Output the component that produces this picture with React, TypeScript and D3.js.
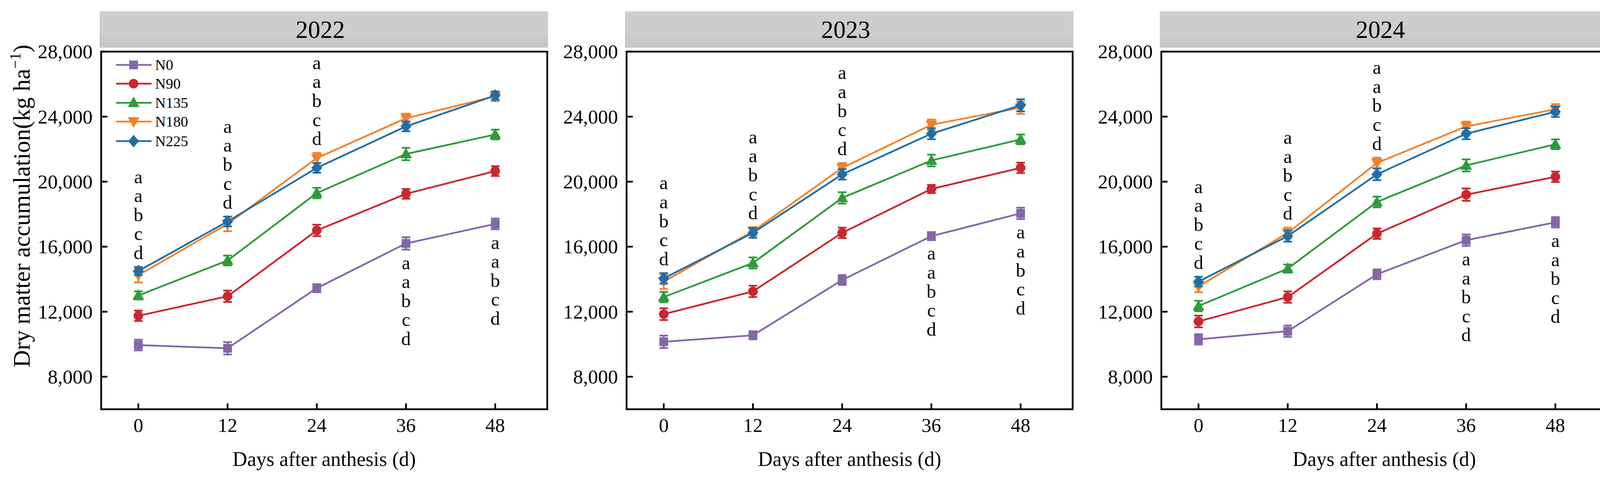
import React from "react";
import * as d3 from "d3";

// ---------------- data ----------------
const days = [0, 12, 24, 36, 48];
const years = ["2022", "2023", "2024"];
const treatments = ["N0", "N90", "N135", "N180", "N225"];
const colors = ["#8466A9", "#C9272D", "#2F9A3C", "#F0822A", "#1F6EA6"];
const markerTypes = ["square", "circle", "triangleUp", "triangleDown", "diamond"];
const yTicks = [8000, 12000, 16000, 20000, 24000, 28000];

// values [treatment][day]
const values2022 = [
  [9950, 9750, 13450, 16200, 17400],
  [11750, 12950, 17000, 19250, 20650],
  [13000, 15150, 19300, 21700, 22900],
  [14250, 17400, 21450, 23900, 25250],
  [14500, 17550, 20850, 23400, 25300],
];
const errors2022 = [
  [330, 380, 250, 380, 330],
  [320, 350, 350, 300, 300],
  [250, 300, 320, 380, 300],
  [450, 450, 320, 280, 300],
  [250, 300, 300, 300, 250],
];
const values2023 = [
  [10150, 10550, 13950, 16650, 18050],
  [11850, 13250, 16850, 19550, 20850],
  [12900, 15000, 19000, 21300, 22600],
  [13850, 16950, 20850, 23500, 24550],
  [14050, 16850, 20450, 22950, 24700],
];
const errors2023 = [
  [380, 250, 300, 250, 350],
  [360, 350, 320, 250, 320],
  [320, 340, 350, 360, 300],
  [450, 250, 300, 320, 380],
  [320, 300, 320, 340, 370],
];
const values2024 = [
  [10300, 10800, 14300, 16400, 17500],
  [11400, 12900, 16800, 19200, 20300],
  [12350, 14650, 18750, 21000, 22300],
  [13550, 16850, 21150, 23400, 24450],
  [13850, 16650, 20450, 22950, 24300],
];
const errors2024 = [
  [320, 350, 300, 350, 320],
  [360, 350, 320, 380, 320],
  [320, 250, 330, 370, 300],
  [350, 320, 320, 290, 320],
  [300, 340, 360, 340, 320],
];
const valuesByYear = [values2022, values2023, values2024];
const errorsByYear = [errors2022, errors2023, errors2024];

// significance letters per day (same for each year), top to bottom
const letterSides = ["above", "above", "above", "below", "below"];
const letters2022 = [["a", "a", "b", "c", "d"], ["a", "a", "b", "c", "d"], ["a", "a", "b", "c", "d"], ["a", "a", "b", "c", "d"], ["a", "a", "b", "c", "d"]];
const letters2023 = [["a", "a", "b", "c", "d"], ["a", "a", "b", "c", "d"], ["a", "a", "b", "c", "d"], ["a", "a", "b", "c", "d"], ["a", "a", "b", "c", "d"]];
const letters2024 = [["a", "a", "b", "c", "d"], ["a", "a", "b", "c", "d"], ["a", "a", "b", "c", "d"], ["a", "a", "b", "c", "d"], ["a", "a", "b", "c", "d"]];
const lettersByYear = [letters2022, letters2023, letters2024];

// ---------------- layout ----------------
const W = 4143;
const H = 1228;
const panelLefts = [259, 1604, 2973];
const panelW = 1142;
const plotTop = 132;
const plotBottom = 1047;
const FONT = "'Liberation Serif', 'Times New Roman', Times, serif";

function markerPath(type: string): string {
  if (type === "square") {
    return d3.symbol(d3.symbolSquare, 500)() as string;
  }
  if (type === "circle") {
    return d3.symbol(d3.symbolCircle, 470)() as string;
  }
  if (type === "triangleUp") {
    const p = d3.path();
    p.moveTo(0, -16);
    p.lineTo(15, 11);
    p.lineTo(-15, 11);
    p.closePath();
    return p.toString();
  }
  if (type === "triangleDown") {
    const p = d3.path();
    p.moveTo(0, 16);
    p.lineTo(15, -11);
    p.lineTo(-15, -11);
    p.closePath();
    return p.toString();
  }
  const p = d3.path();
  p.moveTo(0, -16);
  p.lineTo(14, 0);
  p.lineTo(0, 16);
  p.lineTo(-14, 0);
  p.closePath();
  return p.toString();
}

function Panel({ yi }: { yi: number }) {
  const left = panelLefts[yi];
  const right = left + panelW;
  const x = d3.scaleLinear().domain([-5, 55]).range([left, right]);
  const y = d3.scaleLinear().domain([6000, 28000]).range([plotBottom, plotTop]);
  const vals = valuesByYear[yi];
  const errs = errorsByYear[yi];
  const letters = lettersByYear[yi];
  const line = d3
    .line<number>()
    .x((_, i) => x(days[i]))
    .y((v) => y(v));
  const fmt = d3.format(",");
  const lineH = 48.6;

  return (
    <g>
      {/* header band */}
      <rect x={left - 4} y={29} width={panelW + 6} height={93} fill="#cdcdcd" />
      <rect x={left - 4} y={94} width={panelW + 6} height={28} fill="#c8c8c8" />
      <text
        x={(left + right) / 2 - 10}
        y={97}
        textAnchor="middle"
        fontFamily={FONT}
        fontSize={63}
        fill="#000"
      >
        {years[yi]}
      </text>

      {/* series */}
      {treatments.map((t, si) => (
        <g key={t}>
          <path d={line(vals[si]) as string} fill="none" stroke={colors[si]} strokeWidth={4.5} />
          {vals[si].map((v, di) => {
            const cx = x(days[di]);
            const y1 = y(v + errs[si][di]);
            const y2 = y(v - errs[si][di]);
            return (
              <g key={di} stroke={colors[si]} strokeWidth={4.5}>
                <line x1={cx} x2={cx} y1={y1} y2={y2} />
                <line x1={cx - 11} x2={cx + 11} y1={y1} y2={y1} />
                <line x1={cx - 11} x2={cx + 11} y1={y2} y2={y2} />
              </g>
            );
          })}
          {vals[si].map((v, di) => (
            <path
              key={"m" + di}
              d={markerPath(markerTypes[si])}
              transform={`translate(${x(days[di])},${y(v)})`}
              fill={colors[si]}
            />
          ))}
        </g>
      ))}

      {/* significance letters */}
      {days.map((d, di) => {
        const tops = treatments.map((_, si) => vals[si][di] + errs[si][di]);
        const bots = treatments.map((_, si) => vals[si][di] - errs[si][di]);
        const lt = letters[di];
        const n = lt.length;
        return (
          <g key={"l" + di}>
            {lt.map((s, li) => {
              const by =
                letterSides[di] === "above"
                  ? y(d3.max(tops) as number) - 20 - (n - 1 - li) * lineH
                  : y(d3.min(bots) as number) + 50 + li * lineH;
              return (
                <text
                  key={li}
                  x={x(d)}
                  y={by}
                  textAnchor="middle"
                  fontFamily={FONT}
                  fontSize={49}
                  fill="#000"
                >
                  {s}
                </text>
              );
            })}
          </g>
        );
      })}

      {/* frame */}
      <rect
        x={left}
        y={plotTop}
        width={panelW}
        height={plotBottom - plotTop}
        fill="none"
        stroke="#000"
        strokeWidth={4.5}
      />
      {/* y ticks */}
      {yTicks.map((t) => (
        <g key={t}>
          <line x1={left} x2={left + 16} y1={y(t)} y2={y(t)} stroke="#000" strokeWidth={4.5} />
          <text
            x={left - 22}
            y={y(t)}
            dy="0.34em"
            textAnchor="end"
            fontFamily={FONT}
            fontSize={51}
            fill="#000"
          >
            {fmt(t)}
          </text>
        </g>
      ))}
      {/* x ticks */}
      {days.map((d) => (
        <g key={"x" + d}>
          <line x1={x(d)} x2={x(d)} y1={plotBottom} y2={plotBottom - 15} stroke="#000" strokeWidth={4.5} />
          <text
            x={x(d)}
            y={1105}
            textAnchor="middle"
            fontFamily={FONT}
            fontSize={50}
            fill="#000"
          >
            {d}
          </text>
        </g>
      ))}
      <text
        x={(left + right) / 2}
        y={1192}
        textAnchor="middle"
        fontFamily={FONT}
        fontSize={52}
        fill="#000"
      >
        Days after anthesis (d)
      </text>
    </g>
  );
}

function Legend() {
  const rowY = [166, 214, 263, 311, 361];
  return (
    <g>
      {treatments.map((t, i) => (
        <g key={t}>
          <line x1={297} x2={388} y1={rowY[i]} y2={rowY[i]} stroke={colors[i]} strokeWidth={4.5} />
          <path d={markerPath(markerTypes[i])} transform={`translate(342,${rowY[i]})`} fill={colors[i]} />
          <text x={397} y={rowY[i]} dy="0.35em" fontFamily={FONT} fontSize={38} fill="#000">
            {t}
          </text>
        </g>
      ))}
    </g>
  );
}

export default function App() {
  React.useEffect(() => {
    document.body.style.margin = "0";
    document.body.style.overflow = "hidden";
  }, []);
  return (
    <svg
      width={W}
      height={H}
      viewBox={`0 0 ${W} ${H}`}
      style={{ position: "absolute", left: 0, top: 0, background: "#fff" }}
    >
      <rect x={0} y={0} width={W} height={H} fill="#fff" />
      {years.map((_, yi) => (
        <Panel key={yi} yi={yi} />
      ))}
      <Legend />
      <text
        transform="translate(76,527) rotate(-90)"
        textAnchor="middle"
        fontFamily={FONT}
        fontSize={61}
        fill="#000"
      >
        Dry matter accumulation(kg ha
        <tspan fontSize={39} dy={-24}>
          −1
        </tspan>
        <tspan dy={24}>)</tspan>
      </text>
    </svg>
  );
}
